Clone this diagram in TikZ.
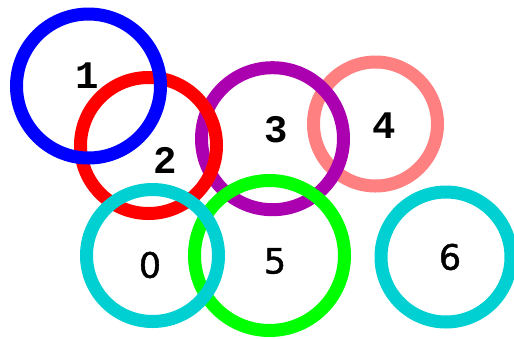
\documentclass[tikz,border=0pt]{standalone}
\usepackage{fontspec}
\newfontfamily\monob{Liberation Mono}
\newfontfamily\dvs{DejaVu Sans}[FakeBold=1.2]
\definecolor{cblue}{RGB}{0,0,255}
\definecolor{cred}{RGB}{255,0,0}
\definecolor{cpurple}{RGB}{170,0,176}
\definecolor{cpink}{RGB}{255,128,128}
\definecolor{ccyan}{RGB}{0,208,210}
\definecolor{cgreen}{RGB}{0,255,0}
\tikzset{
  ring/.style={line width=13pt},
  lblA/.style={inner sep=0pt, font=\monob\bfseries\fontsize{39}{44}\selectfont},
  lblB/.style={inner sep=0pt, font=\dvs\fontsize{35}{40}\selectfont},
}
\begin{document}
\begin{tikzpicture}[x=1pt,y=-1pt]
\useasboundingbox (0,0) rectangle (514,338);
\fill[white] (0,0) rectangle (514,338);
\draw[ring,cpink] (375.5,124) circle[radius=62];
\draw[ring,cpurple] (272.5,138.7) circle[radius=71];
\draw[ring,cred] (148.5,145.5) circle[radius=68];
\draw[ring,cblue] (88.5,86) circle[radius=72];
\draw[ring,cgreen] (269.5,255.5) circle[radius=75];
\draw[ring,ccyan] (152.5,255.5) circle[radius=66];
\draw[ring,ccyan] (446,257) circle[radius=65];
\node[lblA] (n1) at (87,76) {1};
\node[lblA] (n2) at (165,160) {2};
\node[lblA] (n3) at (276,130) {3};
\node[lblA] (n4) at (384,126) {4};
\node[lblB] (n0) at (150,265) {0};
\node[lblB] (n5) at (275,261) {5};
\node[lblB] (n6) at (450,257) {6};
\end{tikzpicture}
\end{document}
